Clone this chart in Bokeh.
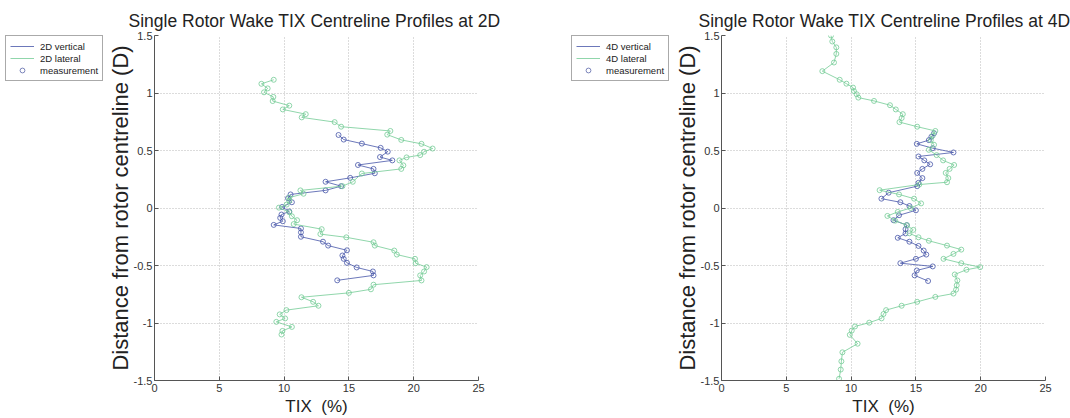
from bokeh.plotting import figure
from bokeh.models import Range1d, Legend, LegendItem, FixedTicker
from bokeh.layouts import row
from bokeh.embed import file_html
from bokeh.resources import INLINE

# ---------------- data ----------------
x_ticks = [0, 5, 10, 15, 20, 25]
y_ticks = [-1.5, -1.0, -0.5, 0.0, 0.5, 1.0, 1.5]
y_tick_labels = ["-1.5", "-1", "-0.5", "0", "0.5", "1", "1.5"]

# 2D vertical (distance D, TIX %)
y_2d_vert = [0.635, 0.595, 0.560, 0.523, 0.490, 0.443, 0.414, 0.374, 0.340, 0.302,
             0.262, 0.228, 0.190, 0.153, 0.118, 0.085, 0.050, 0.009, -0.030, -0.057,
             -0.086, -0.115, -0.147, -0.178, -0.212, -0.250, -0.293, -0.327, -0.368, -0.413,
             -0.442, -0.477, -0.517, -0.552, -0.586, -0.629]
tix_2d_vert = [14.2, 14.6, 16.0, 17.45, 18.0, 17.4, 18.35, 15.7, 16.9, 17.0,
               15.1, 13.2, 14.4, 13.2, 10.5, 10.3, 10.6, 9.85, 10.4, 9.8,
               9.7, 9.9, 9.2, 11.3, 11.3, 11.3, 13.0, 13.4, 14.85, 14.5,
               14.6, 14.85, 15.6, 16.85, 16.9, 14.1]

# 2D lateral
y_2d_lat = [1.115, 1.080, 1.040, 1.006, 0.966, 0.930, 0.890, 0.857, 0.816, 0.788,
            0.747, 0.707, 0.670, 0.638, 0.592, 0.558, 0.517, 0.489, 0.460, 0.440,
            0.414, 0.371, 0.340, 0.300, 0.228, 0.190, 0.153, 0.124, 0.090, 0.063,
            0.030, 0.003, -0.037, -0.072, -0.106, -0.140, -0.184, -0.227, -0.255, -0.298,
            -0.327, -0.370, -0.405, -0.442, -0.480, -0.514, -0.552, -0.586, -0.630, -0.667,
            -0.707, -0.738, -0.776, -0.816, -0.850, -0.888, -0.925, -0.960, -0.990, -1.034,
            -1.069, -1.100]
tix_2d_lat = [9.2, 8.25, 8.73, 8.45, 9.17, 9.12, 10.4, 9.9, 11.67, 11.36,
              13.9, 14.4, 18.2, 17.96, 19.04, 20.6, 21.46, 20.8, 20.5, 19.45,
              18.9, 19.2, 19.04, 16.0, 15.3, 14.5, 11.26, 11.5, 10.4, 10.4,
              10.2, 9.6, 10.4, 10.6, 11.0, 10.74, 12.9, 12.8, 14.8, 16.9,
              17.0, 18.5, 18.7, 20.1, 20.15, 21.0, 20.8, 20.5, 20.6, 16.9,
              16.7, 15.0, 11.34, 12.24, 12.65, 10.18, 9.66, 10.08, 9.4, 10.6,
              9.87, 9.8]

# 4D vertical
y_4d_vert = [0.650, 0.620, 0.590, 0.558, 0.520, 0.483, 0.448, 0.414, 0.380, 0.340,
             0.305, 0.260, 0.219, 0.190, 0.133, 0.081, 0.050, 0.017, -0.020, -0.063,
             -0.106, -0.149, -0.184, -0.221, -0.259, -0.293, -0.330, -0.370, -0.405, -0.442,
             -0.480, -0.508, -0.543, -0.586, -0.635]
tix_4d_vert = [16.4, 16.2, 16.0, 15.07, 16.3, 17.9, 15.2, 15.65, 16.1, 15.5,
               15.1, 15.5, 15.2, 15.1, 12.9, 12.34, 13.8, 14.5, 15.0, 13.7,
               13.27, 14.3, 14.2, 14.2, 13.6, 14.5, 15.2, 15.6, 15.8, 15.0,
               13.8, 16.3, 15.07, 14.9, 15.94]

# 4D lateral
y_4d_lat = [1.500, 1.448, 1.397, 1.340, 1.265, 1.190, 1.115, 1.081, 1.047, 1.017,
            0.989, 0.960, 0.931, 0.894, 0.857, 0.816, 0.782, 0.747, 0.707, 0.670,
            0.630, 0.590, 0.550, 0.506, 0.460, 0.414, 0.374, 0.340, 0.305, 0.260,
            0.224, 0.204, 0.155, 0.118, 0.081, 0.040, 0.000, -0.034, -0.069, -0.110,
            -0.150, -0.190, -0.220, -0.255, -0.285, -0.327, -0.362, -0.399, -0.442, -0.480,
            -0.514, -0.537, -0.578, -0.630, -0.672, -0.710, -0.744, -0.773, -0.816, -0.850,
            -0.888, -0.922, -0.960, -0.997, -1.030, -1.066, -1.103, -1.180, -1.255, -1.333,
            -1.405, -1.485]
tix_4d_lat = [8.45, 8.55, 8.86, 8.86, 8.68, 7.78, 9.12, 9.64, 10.15, 10.22,
              10.43, 10.56, 11.77, 13.0, 13.45, 13.99, 13.9, 13.73, 15.1, 16.5,
              16.3, 16.15, 16.4, 16.0, 16.6, 17.1, 17.95, 17.6, 17.3, 17.5,
              17.4, 15.26, 12.2, 13.7, 14.86, 15.4, 14.6, 13.6, 12.8, 13.4,
              14.3, 14.8, 14.5, 15.2, 16.0, 17.4, 18.5, 17.9, 17.13, 18.5,
              19.96, 18.9, 18.0, 18.2, 18.15, 18.1, 17.9, 16.5, 15.1, 13.9,
              12.7, 12.5, 12.35, 11.4, 10.3, 10.05, 9.9, 10.5, 9.33, 9.25,
              9.2, 9.07]

FONT = "Liberation Sans"
BLUE = "#4656a8"
GREEN = "#74cc96"


def make_legend_fig(width, left, yv, xv, yl, xl, lab_v, lab_l):
    # A narrow, axis-less figure that only hosts the legend box (the data of its
    # renderers lies outside its small view range, so only the legend shows).
    q = figure(width=width, height=418, output_backend="svg", toolbar_location=None,
               x_range=Range1d(0, 1), y_range=Range1d(0, 1),
               x_axis_location=None, y_axis_location=None,
               min_border_left=left, min_border_right=0, min_border_top=34, min_border_bottom=0)
    q.outline_line_color = None
    q.grid.visible = False
    q.background_fill_color = "white"
    q.border_fill_color = "white"
    rv = q.line(xv, yv, line_color=BLUE, line_width=0.8)
    rl = q.line(xl, yl, line_color=GREEN, line_width=0.8)
    rm = q.scatter(xv, yv, marker="circle", size=4, fill_color=None,
                   line_color="#5a66a8", line_width=0.8)
    legend = Legend(items=[LegendItem(label=lab_v, renderers=[rv]),
                           LegendItem(label=lab_l, renderers=[rl]),
                           LegendItem(label="measurement", renderers=[rm])],
                    location="top_left")
    legend.label_text_font = FONT
    legend.label_text_font_size = "9.5px"
    legend.label_text_color = "#222222"
    legend.glyph_width = 24
    legend.glyph_height = 12
    legend.label_height = 12
    legend.spacing = 0
    legend.padding = 4
    legend.margin = 0
    legend.label_standoff = 6
    legend.border_line_color = "#555555"
    legend.border_line_width = 1
    legend.background_fill_color = "white"
    legend.background_fill_alpha = 1
    q.add_layout(legend)
    return q


def make_panel(title, yv, xv, yl, xl, width, bl, br, title_off):
    p = figure(width=width, height=418, output_backend="svg", toolbar_location=None,
               x_range=Range1d(0, 25), y_range=Range1d(-1.5, 1.5),
               min_border_left=bl, min_border_right=br,
               min_border_top=35, min_border_bottom=35)
    p.title.text = title
    p.title.text_font = FONT
    p.title.text_font_size = "17.5px"
    p.title.text_font_style = "normal"
    p.title.text_color = "#222222"
    p.title.align = "left"
    p.title.offset = title_off
    p.title.standoff = 9

    p.outline_line_color = None
    p.background_fill_color = "white"
    p.border_fill_color = "white"

    p.xaxis.ticker = FixedTicker(ticks=x_ticks)
    p.yaxis.ticker = FixedTicker(ticks=y_ticks)
    p.yaxis.major_label_overrides = {t: s for t, s in zip(y_ticks, y_tick_labels)}
    p.xaxis.axis_label = "TIX\u00a0\u00a0(%)"
    p.yaxis.axis_label = "Distance from rotor centreline (D)"
    for ax in (p.xaxis, p.yaxis):
        ax.axis_label_text_font = FONT
        ax.axis_label_text_font_style = "normal"
        ax.axis_label_text_color = "#222222"
        ax.major_label_text_font = FONT
        ax.major_label_text_font_size = "11px"
        ax.major_label_text_color = "#333333"
        ax.axis_line_color = "#555555"
        ax.major_tick_line_color = "#555555"
        ax.major_tick_in = 4
        ax.major_tick_out = 0
        ax.minor_tick_line_color = None
        ax.major_label_standoff = 3
        ax.axis_label_standoff = 2
    p.xaxis.axis_label_text_font_size = "17px"
    p.yaxis.axis_label_text_font_size = "22px"
    p.yaxis.major_label_standoff = 2
    p.yaxis.axis_label_standoff = -2

    p.grid.grid_line_color = "#b8b8b8"
    p.grid.grid_line_dash = "1 2"
    p.grid.grid_line_width = 1

    p.line(xv, yv, line_color=BLUE, line_width=0.8)
    p.scatter(xv, yv, marker="circle", size=5, fill_color=None, line_color=BLUE, line_width=0.8)
    p.line(xl, yl, line_color=GREEN, line_width=0.8)
    p.scatter(xl, yl, marker="circle", size=5, fill_color=None, line_color=GREEN, line_width=0.8)
    return p


leg1 = make_legend_fig(103, 5, y_2d_vert, tix_2d_vert, y_2d_lat, tix_2d_lat,
                       "2D vertical", "2D lateral")
p1 = make_panel("Single Rotor Wake TIX Centreline Profiles at 2D",
                y_2d_vert, tix_2d_vert, y_2d_lat, tix_2d_lat, 432, 51, 57, -26)
leg2 = make_legend_fig(135, 36, y_4d_vert, tix_4d_vert, y_4d_lat, tix_4d_lat,
                       "4D vertical", "4D lateral")
p2 = make_panel("Single Rotor Wake TIX Centreline Profiles at 4D",
                y_4d_vert, tix_4d_vert, y_4d_lat, tix_4d_lat, 400, 51, 25, -23)

layout = row(leg1, p1, leg2, p2, spacing=0)
open("out.html", "w").write(file_html(layout, INLINE))
